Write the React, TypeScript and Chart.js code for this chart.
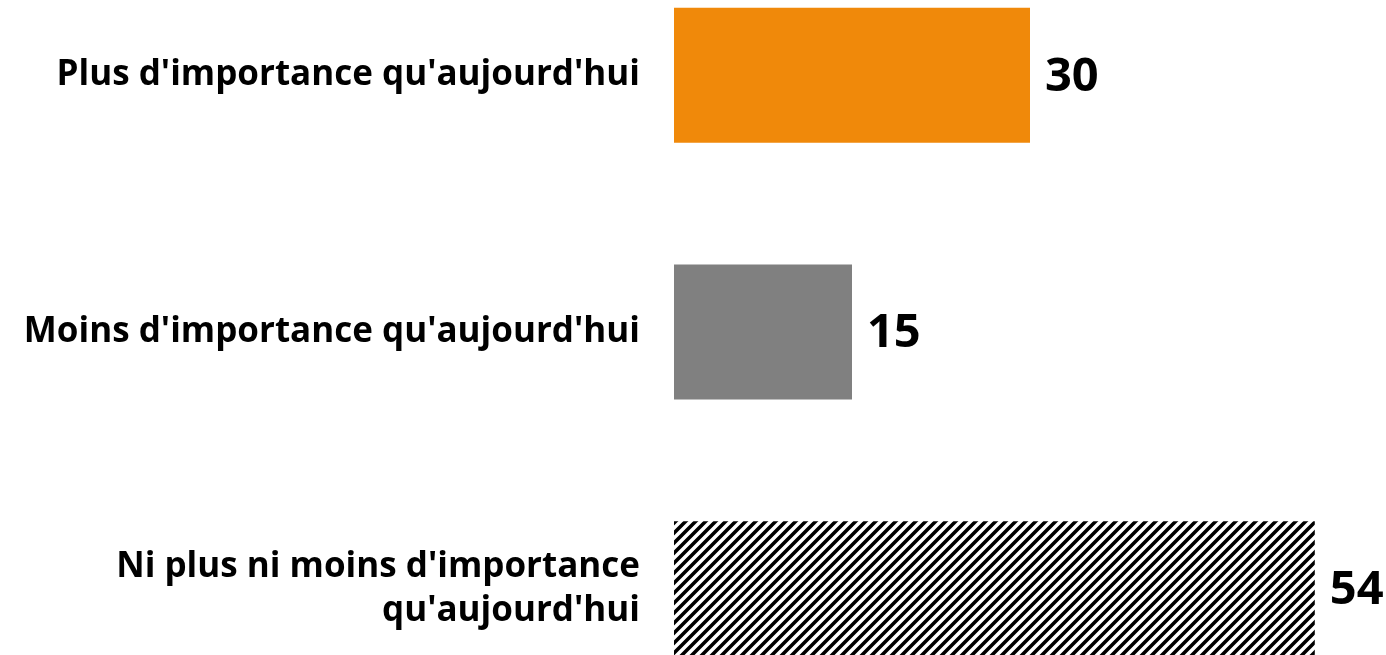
import React, { useEffect, useRef } from "react";
import { Chart, registerables } from "chart.js";

Chart.register(...registerables);

const categories: (string | string[])[] = [
  "Plus d'importance qu'aujourd'hui",
  "Moins d'importance qu'aujourd'hui",
  ["Ni plus ni moins d'importance", "qu'aujourd'hui"],
];
const values: number[] = [30, 15, 54];
const valueLabels: string[] = ["30", "15", "54"];

const FONT = "'Open Sans', 'DejaVu Sans', sans-serif";

function makeHatch(): CanvasPattern | string {
  const c = document.createElement("canvas");
  c.width = 10;
  c.height = 10;
  const g = c.getContext("2d");
  if (!g) return "#000";
  g.fillStyle = "#ffffff";
  g.fillRect(0, 0, 10, 10);
  g.strokeStyle = "#000000";
  g.lineWidth = 3.6;
  g.lineCap = "square";
  g.beginPath();
  g.moveTo(-5, 5);
  g.lineTo(5, -5);
  g.moveTo(0, 10);
  g.lineTo(10, 0);
  g.moveTo(5, 15);
  g.lineTo(15, 5);
  g.stroke();
  const p = g.createPattern(c, "repeat");
  return p || "#000";
}

const valuePlugin = {
  id: "valueLabels",
  afterDatasetsDraw(chart: any) {
    const ctx = chart.ctx;
    const meta = chart.getDatasetMeta(0);
    ctx.save();
    ctx.fillStyle = "#000";
    ctx.font = `bold 47px ${FONT}`;
    ctx.textAlign = "left";
    ctx.textBaseline = "middle";
    meta.data.forEach((bar: any, i: number) => {
      ctx.fillText(valueLabels[i], bar.x + 15, bar.y + 2);
    });
    ctx.restore();
  },
};

export default function App() {
  const ref = useRef<HTMLCanvasElement | null>(null);

  useEffect(() => {
    if (!ref.current) return;
    const hatch = makeHatch();
    const chart = new Chart(ref.current, {
      type: "bar",
      data: {
        labels: categories,
        datasets: [
          {
            data: values,
            backgroundColor: ["#F0890A", "#808080", hatch as any],
            borderWidth: 0,
            categoryPercentage: 1,
            barPercentage: 0.526,
          },
        ],
      },
      options: {
        indexAxis: "y",
        animation: false,
        responsive: false,
        maintainAspectRatio: false,
        devicePixelRatio: 1,
        layout: { padding: 0 },
        plugins: {
          legend: { display: false },
          tooltip: { enabled: false },
        },
        scales: {
          x: {
            display: false,
            min: 0,
            max: 60,
          },
          y: {
            grid: { display: false, drawTicks: false },
            border: { display: false },
            ticks: {
              color: "#000",
              padding: 34,
              font: { family: FONT, weight: "bold", size: 35, lineHeight: "44px" } as any,
            },
            afterFit(scale: any) {
              scale.width = 674;
              scale.paddingTop = 0;
              scale.paddingBottom = 0;
            },
          },
        },
      },
      plugins: [valuePlugin],
    });
    return () => chart.destroy();
  }, []);

  return (
    <div style={{ position: "fixed", left: 0, top: 0, width: 1386, height: 655, overflow: "hidden", background: "#fff" }}>
      <canvas
        ref={ref}
        width={1386}
        height={770}
        style={{ position: "absolute", left: 0, top: -53, width: 1386, height: 770, display: "block" }}
      />
    </div>
  );
}
